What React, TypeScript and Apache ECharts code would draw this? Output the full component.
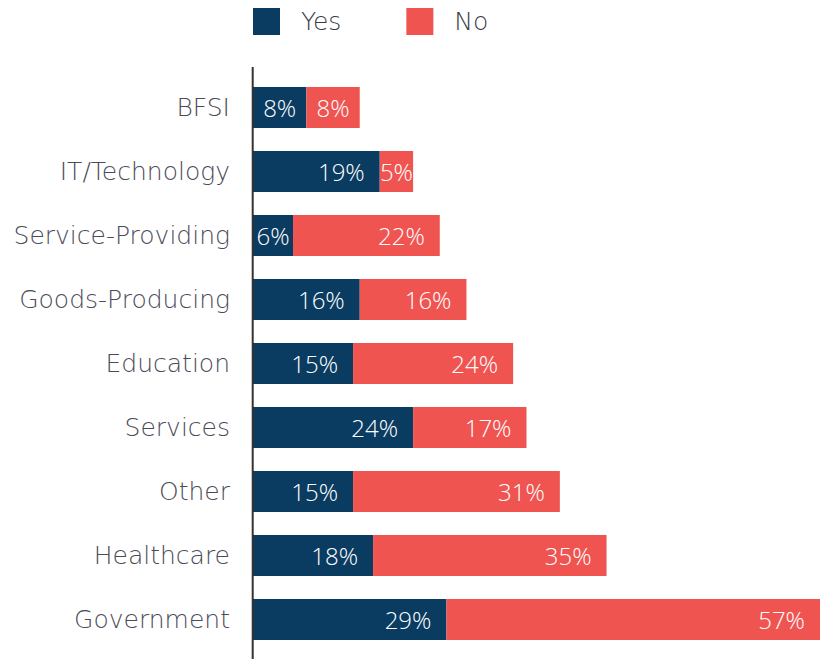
import React, { useEffect, useRef } from "react";
import * as echarts from "echarts";

const categories = [
  "BFSI",
  "IT/Technology",
  "Service-Providing",
  "Goods-Producing",
  "Education",
  "Services",
  "Other",
  "Healthcare",
  "Government",
];
const yesValues = [8, 19, 6, 16, 15, 24, 15, 18, 29];
const noValues = [8, 5, 22, 16, 24, 17, 31, 35, 57];
const seriesNames = ["Yes", "No"];
const xMax = 85;

const FONT = "'Open Sans', sans-serif";
const CAT_FONT = "'DejaVu Sans', sans-serif";

function toItems(values: number[]) {
  return values.map((v) =>
    v < 10 ? { value: v, label: { position: "inside" } } : { value: v }
  );
}

export default function App() {
  const ref = useRef<HTMLDivElement>(null);
  useEffect(() => {
    document.body.style.margin = "0";
    if (!ref.current) return;
    const chart = echarts.init(ref.current, undefined, { renderer: "svg" });
    const labelStyle = {
      show: true,
      position: "insideRight",
      distance: 15,
      color: "#ffffff",
      fontSize: 24,
      fontWeight: 300,
      fontFamily: FONT,
      formatter: "{c}%",
    };
    chart.setOption({
      animation: false,
      legend: {
        left: 253,
        top: 8,
        padding: 0,
        itemWidth: 27,
        itemHeight: 27,
        itemGap: 65,
        icon: "rect",
        textStyle: {
          fontSize: 25,
          fontFamily: CAT_FONT,
          fontWeight: 200,
          color: "#3a3a48",
          padding: [8, 0, 0, 16],
        },
        data: seriesNames,
      },
      grid: { left: 253, right: 0, top: 75.5, bottom: 7.5 },
      xAxis: {
        type: "value",
        min: 0,
        max: xMax,
        show: false,
      },
      yAxis: {
        type: "category",
        data: categories,
        inverse: true,
        axisLine: { show: false },
        axisTick: { show: false },
        axisLabel: {
          fontSize: 25,
          fontFamily: CAT_FONT,
          fontWeight: 200,
          color: "#4b4b57",
          margin: 23,
        },
      },
      graphic: [
        {
          type: "line",
          shape: { x1: 252.7, y1: 67, x2: 252.7, y2: 659 },
          style: { stroke: "#333333", lineWidth: 2 },
          z: 10,
        },
      ],
      series: [
        {
          name: seriesNames[0],
          type: "bar",
          stack: "total",
          barWidth: 41,
          itemStyle: { color: "#0a3b61" },
          label: labelStyle,
          data: toItems(yesValues),
        },
        {
          name: seriesNames[1],
          type: "bar",
          stack: "total",
          barWidth: 41,
          itemStyle: { color: "#ef5451" },
          label: labelStyle,
          data: toItems(noValues),
        },
      ],
    });
    return () => chart.dispose();
  }, []);
  return <div ref={ref} style={{ width: 820, height: 659 }} />;
}
